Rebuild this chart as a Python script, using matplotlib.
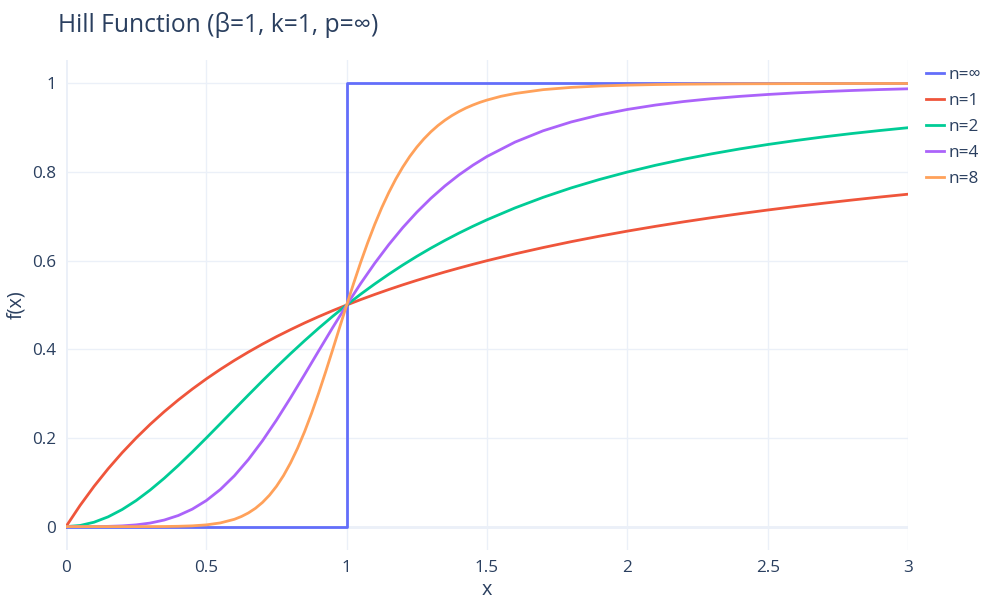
import matplotlib.pyplot as plt

plt.rcParams['font.family'] = ['Open Sans', 'DejaVu Sans']

# values
x = [0, 0.05, 0.1, 0.15, 0.2, 0.25, 0.3, 0.35, 0.4, 0.45, 0.5, 0.55, 0.6, 0.65, 0.7,
     0.75, 0.8, 0.85, 0.9, 0.95, 1.0, 1.05, 1.1, 1.15, 1.2, 1.25, 1.3, 1.35, 1.4, 1.45,
     1.5, 1.6, 1.7, 1.8, 1.9, 2.0, 2.1, 2.2, 2.3, 2.4, 2.5, 2.6, 2.7, 2.8, 2.9, 3.0]
n1 = [0, 0.0476, 0.0909, 0.1304, 0.1667, 0.2, 0.2308, 0.2593, 0.2857, 0.3103, 0.3333,
      0.3548, 0.375, 0.3939, 0.4118, 0.4286, 0.4444, 0.4595, 0.4737, 0.4872, 0.5,
      0.5122, 0.5238, 0.5349, 0.5455, 0.5556, 0.5652, 0.5745, 0.5833, 0.5918, 0.6,
      0.6154, 0.6296, 0.6429, 0.6552, 0.6667, 0.6774, 0.6875, 0.6970, 0.7059, 0.7143,
      0.7222, 0.7297, 0.7368, 0.7436, 0.75]
n2 = [0, 0.0025, 0.0099, 0.0220, 0.0385, 0.0588, 0.0826, 0.1091, 0.1379, 0.1684, 0.2,
      0.2322, 0.2647, 0.2970, 0.3289, 0.36, 0.3902, 0.4194, 0.4475, 0.4744, 0.5,
      0.5244, 0.5475, 0.5694, 0.5902, 0.6098, 0.6283, 0.6457, 0.6622, 0.6777, 0.6923,
      0.7191, 0.7429, 0.7642, 0.7831, 0.8, 0.8152, 0.8288, 0.8410, 0.8521, 0.8621,
      0.8711, 0.8794, 0.8869, 0.8937, 0.9]
n4 = [0, 0.0, 0.0001, 0.0005, 0.0016, 0.0039, 0.0080, 0.0148, 0.0250, 0.0394, 0.0588,
      0.0838, 0.1147, 0.1515, 0.1936, 0.2404, 0.2906, 0.3430, 0.3962, 0.4489, 0.5,
      0.5486, 0.5942, 0.6362, 0.6747, 0.7094, 0.7407, 0.7686, 0.7935, 0.8155, 0.8351,
      0.8676, 0.8931, 0.9130, 0.9287, 0.9412, 0.9511, 0.9591, 0.9655, 0.9707, 0.9750,
      0.9786, 0.9815, 0.9840, 0.9861, 0.9878]

# n=8 is steep around x=1, so it is read at more points there
x8 = [0, 0.05, 0.1, 0.15, 0.2, 0.25, 0.3, 0.35, 0.4, 0.45, 0.5, 0.55, 0.6, 0.625,
      0.65, 0.675, 0.7, 0.725, 0.75, 0.775, 0.8, 0.825, 0.85, 0.875, 0.9, 0.925,
      0.95, 0.975, 1.0, 1.025, 1.05, 1.075, 1.1, 1.125, 1.15, 1.175, 1.2, 1.225,
      1.25, 1.275, 1.3, 1.325, 1.35, 1.375, 1.4, 1.425, 1.45, 1.475, 1.5, 1.55,
      1.6, 1.7, 1.8, 1.9, 2.0, 2.1, 2.2, 2.3, 2.4, 2.5, 2.6, 2.7, 2.8, 2.9, 3.0]
n8 = [0, 0, 0, 0, 0, 0, 0.0001, 0.0002, 0.0007, 0.0017, 0.0039, 0.0083, 0.0165,
      0.0228, 0.0309, 0.0413, 0.0545, 0.0709, 0.0910, 0.1151, 0.1437, 0.1767,
      0.2141, 0.2557, 0.3009, 0.3489, 0.3988, 0.4495, 0.5, 0.5492, 0.5964, 0.6407,
      0.6819, 0.7196, 0.7536, 0.7842, 0.8113, 0.8353, 0.8563, 0.8747, 0.8908,
      0.9048, 0.9169, 0.9274, 0.9365, 0.9445, 0.9513, 0.9573, 0.9624, 0.9709,
      0.9772, 0.9859, 0.9910, 0.9941, 0.9961, 0.9974, 0.9982, 0.9987, 0.9991,
      0.9993, 0.9995, 0.9996, 0.9997, 0.9998, 0.9998]

x_step = [0, 1, 1, 3]
y_step = [0, 0, 1, 1]

text_col = '#2a3f5f'
grid_col = '#EBF0F8'

fig = plt.figure(figsize=(9.83, 6.02), dpi=100)
ax = fig.add_axes([66/983, 52/602, 842/983, 490/602])

ax.plot(x_step, y_step, color='#636EFA', lw=2, label='n=∞')
ax.plot(x, n1, color='#EF553B', lw=2, label='n=1')
ax.plot(x, n2, color='#00CC96', lw=2, label='n=2')
ax.plot(x, n4, color='#AB63FA', lw=2, label='n=4')
ax.plot(x8, n8, color='#FFA15A', lw=2, label='n=8')

ax.set_xlim(0, 3)
ax.set_ylim(-0.0528, 1.0528)
ax.set_xticks([0, 0.5, 1, 1.5, 2, 2.5, 3])
ax.set_xticklabels(['0', '0.5', '1', '1.5', '2', '2.5', '3'])
ax.set_yticks([0, 0.2, 0.4, 0.6, 0.8, 1])
ax.set_yticklabels(['0', '0.2', '0.4', '0.6', '0.8', '1'])
ax.grid(True, color=grid_col, lw=1)
ax.set_axisbelow(True)
ax.axhline(0, color=grid_col, lw=2, zorder=0.5)
ax.axvline(0, color=grid_col, lw=2, zorder=0.5)
for s in ax.spines.values():
    s.set_visible(False)
ax.tick_params(length=0, labelsize=12.3, labelcolor=text_col, pad=7)

ax.set_xlabel('x', fontsize=14.3, color=text_col, labelpad=3)
ax.set_ylabel('f(x)', fontsize=14.3, color=text_col, labelpad=4)

fig.text(58/983, 1 - 25/602, 'Hill Function (β=1, k=1, p=∞)', fontsize=17.7,
         color=text_col, va='center', ha='left')

leg = ax.legend(loc='upper left', bbox_to_anchor=(923/983, 1 - 64/602),
                bbox_transform=fig.transFigure, frameon=False, fontsize=12.3,
                handlelength=1.0, handletextpad=0.3, labelspacing=0.58,
                borderaxespad=0, borderpad=0.2)
for t in leg.get_texts():
    t.set_color(text_col)

plt.savefig('out.png')
